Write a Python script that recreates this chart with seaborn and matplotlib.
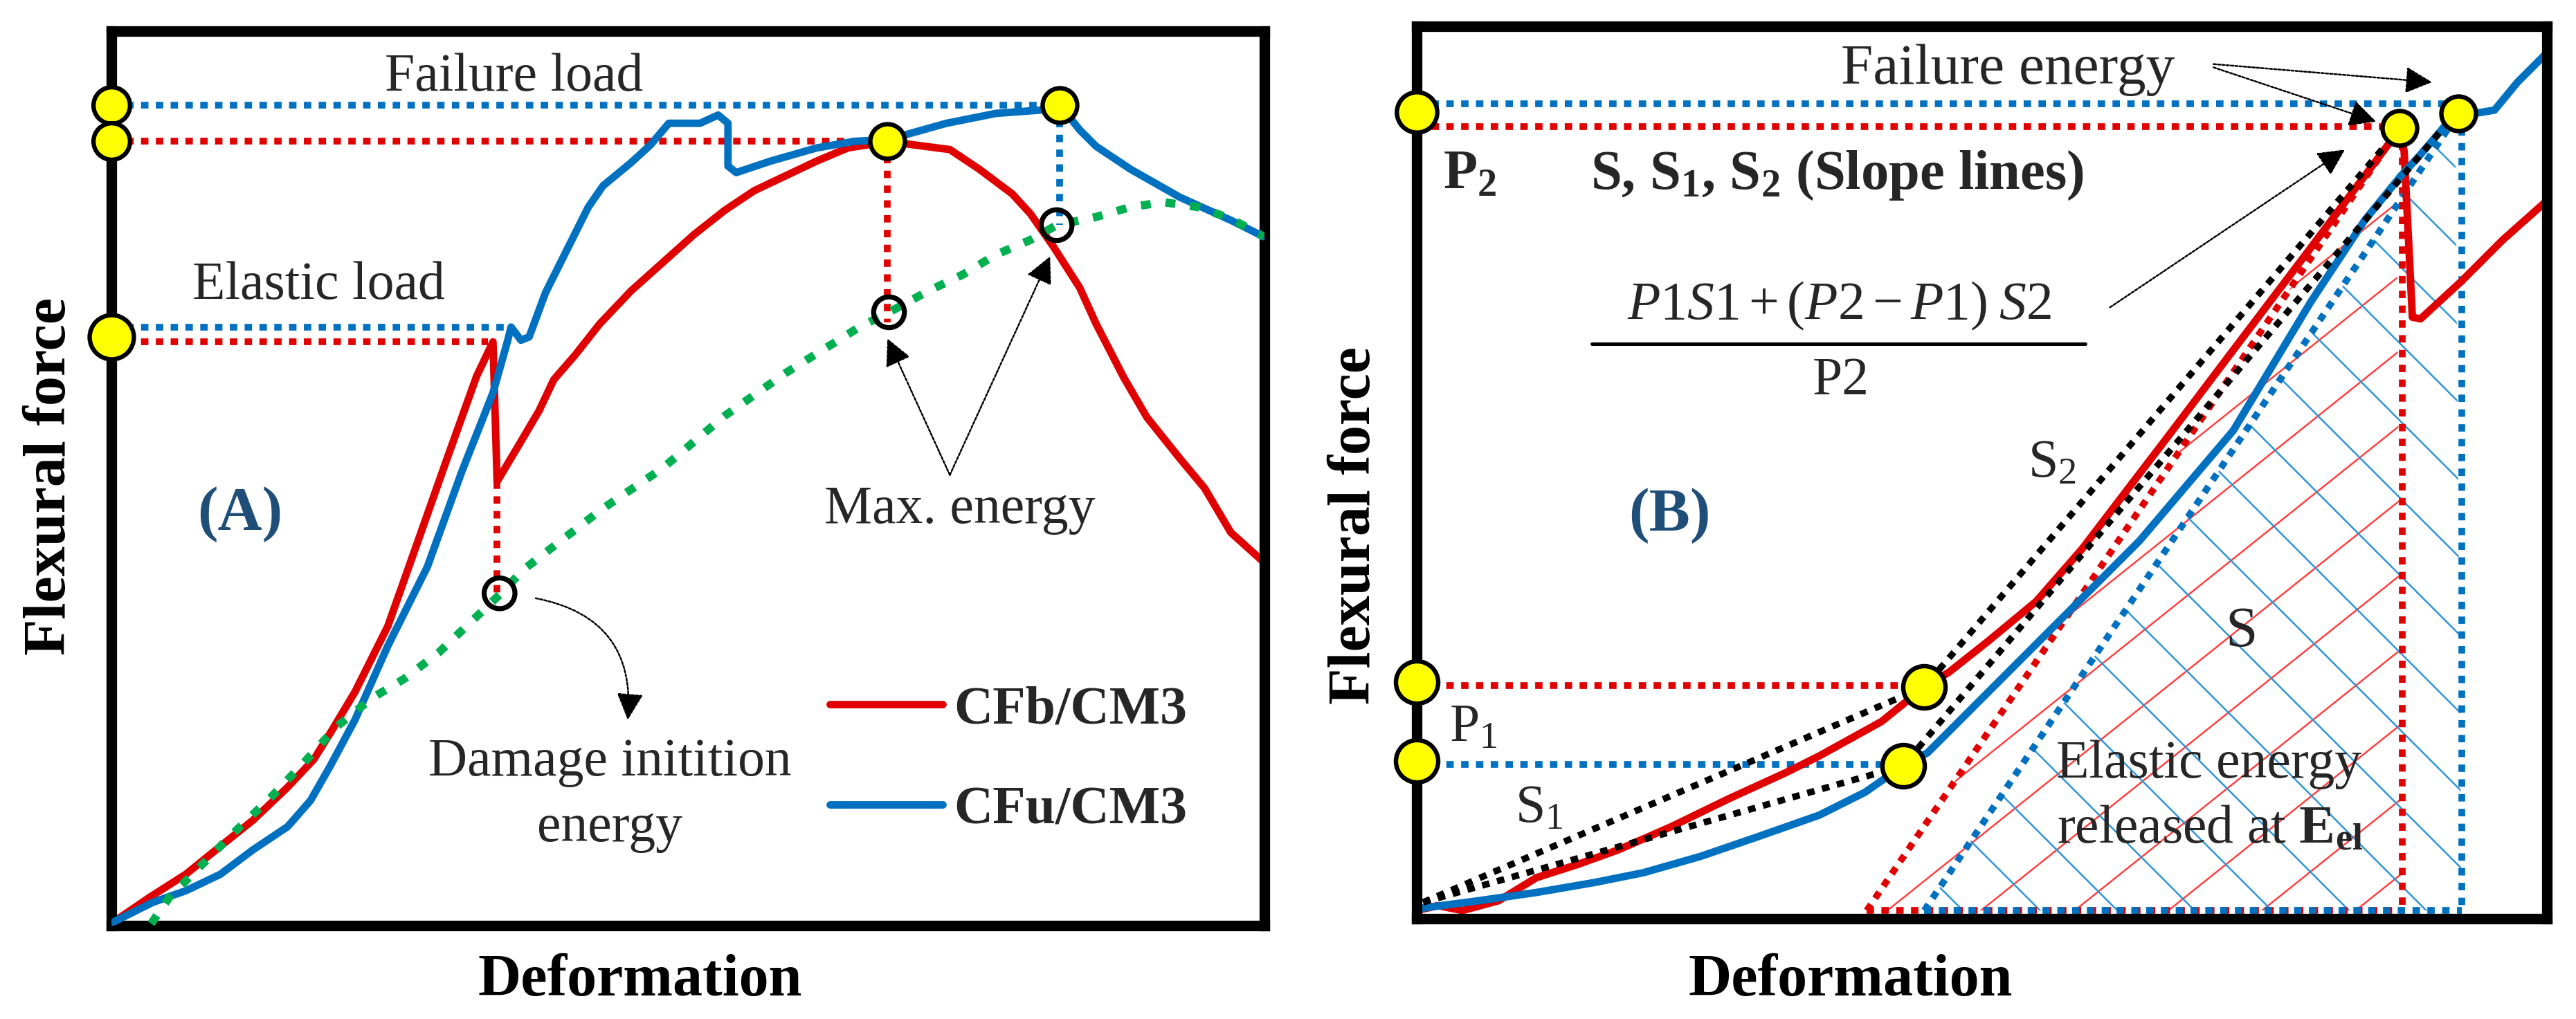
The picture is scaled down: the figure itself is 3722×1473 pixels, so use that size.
import numpy as np
import matplotlib
matplotlib.use("Agg")
import matplotlib.pyplot as plt
import seaborn as sns
from matplotlib.patches import Polygon

sns.set_theme(style="white")
plt.rcParams["font.family"] = ["Liberation Serif", "DejaVu Serif"]
plt.rcParams["mathtext.fontset"] = "custom"
plt.rcParams["mathtext.rm"] = "Liberation Serif"
plt.rcParams["mathtext.it"] = "Liberation Serif:italic"
plt.rcParams["mathtext.bf"] = "Liberation Serif:bold"

RED, BLUE, GREEN, YELLOW, NAVY = "#E00000", "#0070C0", "#00B050", "#FFFF00", "#1F4E79"

# ---------------- Panel A (arbitrary units) ----------------
a_red_x = [1, 23, 45, 66, 86, 107, 123, 133, 148, 168, 185, 203, 222, 232, 234.5, 247, 260, 269, 282,
           297, 316, 335, 354, 373, 391, 410, 429, 448, 467, 472, 487, 510, 528, 548, 559, 573, 589,
           599, 616, 630, 650, 665, 681, 701]
a_red_y = [2, 17, 31, 48, 64, 84, 101, 117, 142, 182, 230, 281, 334, 355, 270, 291, 313, 332, 347,
           366, 386, 403, 420, 435, 447, 456, 465, 473, 476, 477, 475, 472, 460, 445, 433, 413, 388,
           366, 333, 309, 284, 266, 239, 221]
a_blue_x = [1, 25, 45, 66, 86, 107, 121, 133, 148, 168, 192, 213, 232, 241, 243, 249, 254, 264, 279,
            290, 299, 316, 328, 339, 358, 369, 375, 375, 380, 401, 429, 452, 470, 483, 508, 538, 565,
            577, 589, 599, 620, 650, 681, 701]
a_blue_y = [2, 14, 21, 31, 46, 60, 76, 97, 125, 170, 218, 276, 324, 356, 364, 356, 358, 385, 415,
            437, 450, 464, 475, 488, 488, 493, 488, 462, 458, 465, 473, 477, 478, 481, 488, 494, 496,
            499, 484, 474, 460, 443, 429, 419]
a_green_x = [24, 35, 56, 76, 97, 117, 137, 158, 178, 199, 219, 239, 250, 298, 335, 373, 410, 455,
             473, 497, 518, 538, 559, 575, 599, 620, 640, 661, 681, 701]
a_green_y = [1, 17, 38, 58, 78, 99, 121, 138, 150, 166, 185, 204, 216, 253, 278, 310, 336, 364,
             373, 386, 396, 408, 417, 426, 431, 437, 440, 437, 430, 419]
a_load_levels = {"fail_blue": 499, "max_red": 477, "el_blue": 364, "el_red": 355}
a_peak_x = {"fail_blue": 577, "max_red": 472, "el_blue": 243, "el_red": 229}
a_energy_pts_x = [236, 473, 575]   # damage initiation, max energy (red), max energy (blue)
a_energy_pts_y = [202, 373, 426]
a_drop_y = 270

# ---------------- Panel B (arbitrary units) ----------------
b_red_x = [0, 13, 28, 50, 73, 98, 123, 155, 190, 225, 245, 283, 309, 324, 348, 377, 405, 460, 494,
           544, 577, 598, 601, 606, 611, 636, 661, 688]
b_red_y = [5, 8, 5, 11, 25, 33, 42, 56, 73, 89, 99, 120, 141, 150, 169, 193, 225, 297, 342,
           408, 452, 480, 467, 366, 365, 388, 413, 437]
b_blue_x = [0, 38, 73, 108, 138, 173, 208, 245, 273, 296, 311, 339, 377, 414, 440, 497, 544, 577,
            599, 611, 628, 634, 644, 656, 670, 688]
b_blue_y = [6, 11, 16, 22, 28, 38, 50, 63, 77, 93, 101, 129, 167, 204, 230, 297, 375, 425,
            452, 465, 485, 490, 490, 492, 509, 527]
b_slope_red_x = [4, 309, 590]
b_slope_red_y = [10, 141, 471]
b_slope_blue_x = [4, 296, 623]
b_slope_blue_y = [10, 93, 479]
b_P2 = {"red": 482, "blue": 496}
b_P1 = {"red": 142, "blue": 94}
b_fail_x = {"red": 598, "blue": 634}
b_fail_y = {"red": 481, "blue": 490}
b_p1_x = {"red": 309, "blue": 296}
b_p1_y = {"red": 141, "blue": 93}
b_unload_start = {"red": 274, "blue": 309}
b_unload_end_x = {"red": 596, "blue": 632}
b_unload_end_y = {"red": 478, "blue": 487}
b_vert_x = {"red": 600, "blue": 636}

# ---------------- Figure ----------------
fig = plt.figure(figsize=(18.615, 7.365), dpi=200)
axA = fig.add_axes([68 / 1568, 57 / 620, 701.5 / 1568, 544 / 620])
axB = fig.add_axes([862 / 1568, 61 / 620, 688 / 1568, 543 / 620])

DOT = dict(lw=3.5, linestyle=(0, (1.1, 1.1)))
FS = 28


def style_axes(ax, xlim, ylim):
    ax.set_xlim(*xlim)
    ax.set_ylim(*ylim)
    ax.set_xticks([])
    ax.set_yticks([])
    ax.set_xlabel("")
    ax.set_ylabel("")
    ax.set_facecolor("white")
    for s in ax.spines.values():
        s.set_visible(True)
        s.set_color("black")
        s.set_linewidth(5.5)
        s.set_zorder(4)


def yellow(ax, x, y, size):
    ax.scatter(x, y, s=size ** 2, facecolor=YELLOW, edgecolor="black", linewidth=2.3,
               zorder=8, clip_on=False)


def arrow(ax, head, tail, rad=0.0, ms=30):
    ax.annotate("", xy=head, xytext=tail,
                arrowprops=dict(arrowstyle="-|>", color="black", lw=0.9,
                                linestyle=(0, (1.5, 1.0)), mutation_scale=ms,
                                shrinkA=0, shrinkB=0,
                                connectionstyle=f"arc3,rad={rad}"), zorder=9)


# ---------- Panel A ----------
L = a_load_levels
P = a_peak_x
axA.plot([0, P["fail_blue"]], [L["fail_blue"]] * 2, color=BLUE, zorder=3, **DOT)
axA.plot([0, P["max_red"]], [L["max_red"]] * 2, color=RED, zorder=3, **DOT)
axA.plot([0, P["el_blue"]], [L["el_blue"]] * 2, color=BLUE, zorder=3, **DOT)
axA.plot([0, P["el_red"]], [L["el_red"]] * 2, color=RED, zorder=3, **DOT)
axA.plot([234.5] * 2, [a_drop_y, a_energy_pts_y[0]], color=RED, zorder=3, **DOT)
axA.plot([P["max_red"]] * 2, [L["max_red"], a_energy_pts_y[1] - 6], color=RED, zorder=3, **DOT)
axA.plot([P["fail_blue"]] * 2, [L["fail_blue"], a_energy_pts_y[2]], color=BLUE, zorder=3, **DOT)

sns.lineplot(x=a_red_x, y=a_red_y, sort=False, estimator=None, color=RED, lw=3.9,
             ax=axA, label="CFb/CM3", zorder=4)
sns.lineplot(x=a_blue_x, y=a_blue_y, sort=False, estimator=None, color=BLUE, lw=3.9,
             ax=axA, label="CFu/CM3", zorder=4.2)
axA.plot(a_green_x, a_green_y, color=GREEN, lw=4.3, linestyle=(0, (1.2, 1.8)), zorder=5)
style_axes(axA, (0, 701.5), (0, 544))

axA.scatter(a_energy_pts_x, a_energy_pts_y, s=16 ** 2, facecolor="none", edgecolor="black",
            linewidth=2.6, zorder=7)
yellow(axA, [0, 0], [L["fail_blue"], L["max_red"]], 19)
yellow(axA, [0], [358], 23)
yellow(axA, [P["max_red"], P["fail_blue"]], [L["max_red"], L["fail_blue"]], 18)

axA.text(245, 508, "Failure load", fontsize=FS, ha="center", va="baseline")
axA.text(126, 381, "Elastic load", fontsize=FS, ha="center", va="baseline")
axA.text(516, 245, "Max. energy", fontsize=FS, ha="center", va="baseline")
axA.text(303, 91, "Damage initition", fontsize=FS, ha="center", va="baseline")
axA.text(303, 51, "energy", fontsize=FS, ha="center", va="baseline")
axA.text(78, 250, "(A)", fontsize=32, fontweight="bold", color=NAVY, ha="center", va="center")

arrow(axA, (472, 357), (510, 274))
arrow(axA, (571, 407), (510, 274))
arrow(axA, (314, 125), (258, 199), rad=-0.45)

handles, labels = axA.get_legend_handles_labels()
axA.legend(handles, labels, loc="upper left", bbox_to_anchor=(437 / 701.5, 146 / 544),
           frameon=False, prop={"weight": "bold", "size": FS}, handlelength=2.1,
           handletextpad=0.2, labelspacing=0.95, borderpad=0, borderaxespad=0)

# ---------- Panel B ----------


def hatch(ax, verts, slope, spacing, color):
    poly = Polygon(verts, closed=True, facecolor="none", edgecolor="none")
    ax.add_patch(poly)
    vx = np.array([v[0] for v in verts])
    vy = np.array([v[1] for v in verts])
    b = vy - slope * vx
    xs = np.array([vx.min() - 20, vx.max() + 20])
    for bi in np.arange(b.min() + abs(slope) * spacing * 0.5, b.max(), abs(slope) * spacing):
        ln, = ax.plot(xs, slope * xs + bi, color=color, lw=0.9, zorder=1.5)
        ln.set_clip_path(poly)


for c, col, sl, sp in (("red", "#FF4040", 0.8, 57), ("blue", "#2E95D8", -1.0, 47)):
    verts = [(b_unload_start[c], 5), (b_vert_x[c], 5), (b_unload_end_x[c], b_unload_end_y[c])]
    hatch(axB, verts, sl, sp, col)

BC = {"red": RED, "blue": BLUE}
for c in ("red", "blue"):
    axB.plot([0, b_fail_x[c]], [b_P2[c]] * 2, color=BC[c], zorder=3, **DOT)
    axB.plot([0, b_p1_x[c]], [b_P1[c]] * 2, color=BC[c], zorder=3, **DOT)
    axB.plot([b_vert_x[c]] * 2, [b_fail_y[c], 5], color=BC[c], zorder=3, **DOT)
    axB.plot([b_unload_start[c], b_vert_x[c]], [5, 5], color=BC[c], zorder=3, **DOT)
    axB.plot([b_unload_start[c], b_unload_end_x[c]], [5, b_unload_end_y[c]], color=BC[c],
             zorder=3, **DOT)

sns.lineplot(x=b_red_x, y=b_red_y, sort=False, estimator=None, color=RED, lw=3.9, ax=axB, zorder=4)
sns.lineplot(x=b_blue_x, y=b_blue_y, sort=False, estimator=None, color=BLUE, lw=3.9, ax=axB, zorder=4)
axB.plot(b_slope_red_x, b_slope_red_y, color="black", lw=3.4, linestyle=(0, (1.15, 1.2)), zorder=5)
axB.plot(b_slope_blue_x, b_slope_blue_y, color="black", lw=3.4, linestyle=(0, (1.15, 1.2)), zorder=5)
style_axes(axB, (0, 688), (0, 543))

yellow(axB, [0], [491], 21)
yellow(axB, [0, 0], [144, 96], 22)
yellow(axB, [b_p1_x["red"], b_p1_x["blue"]], [b_p1_y["red"], b_p1_y["blue"]], 22)
yellow(axB, [b_fail_x["red"], b_fail_x["blue"]], [b_fail_y["red"], b_fail_y["blue"]], 18)

axB.text(360, 508, "Failure energy", fontsize=30, ha="center", va="baseline")
axB.text(16, 444, r"P$_\mathbf{2}$", fontsize=29, fontweight="bold", ha="left", va="baseline")
axB.text(106, 444, r"S, S$_\mathbf{1}$, S$_\mathbf{2}$ (Slope lines)", fontsize=29,
         fontweight="bold", ha="left", va="baseline")
axB.text(257, 365, r"$P1S1+(P2-P1)\;S2$", fontsize=FS, ha="center", va="baseline")
axB.plot([106.5, 406.8], [350, 350], color="black", lw=1.8, zorder=5)
axB.text(258, 319, "P2", fontsize=FS, ha="center", va="baseline")
axB.text(154, 245, "(B)", fontsize=32, fontweight="bold", color=NAVY, ha="center", va="center")
axB.text(372, 269, r"S$_2$", fontsize=FS, ha="left", va="baseline")
axB.text(502, 174, "S", fontsize=30, ha="center", va="center")
axB.text(20, 108, r"P$_1$", fontsize=FS, ha="left", va="baseline")
axB.text(60, 59, r"S$_1$", fontsize=FS, ha="left", va="baseline")
axB.text(482, 86, "Elastic energy", fontsize=FS, ha="center", va="baseline")
axB.text(483, 46, r"released at $\mathbf{E}_{\mathbf{el}}$", fontsize=FS, ha="center", va="baseline")

arrow(axB, (618, 509), (485, 520))
arrow(axB, (584, 485), (485, 518))
arrow(axB, (565, 468), (422, 372))

# ---------- axis titles ----------
LAB = dict(fontsize=31, fontweight="bold", color="black", ha="center", va="center")
fig.text(389.5 / 1568, 1 - 597 / 620, "Deformation", **LAB)
fig.text(1126 / 1568, 1 - 597 / 620, "Deformation", **LAB)
fig.text(31 / 1568, 1 - 290 / 620, "Flexural force", rotation=90, **LAB)
fig.text(825 / 1568, 1 - 319.5 / 620, "Flexural force", rotation=90, **LAB)

fig.savefig("out.png", dpi=200, facecolor="white")
